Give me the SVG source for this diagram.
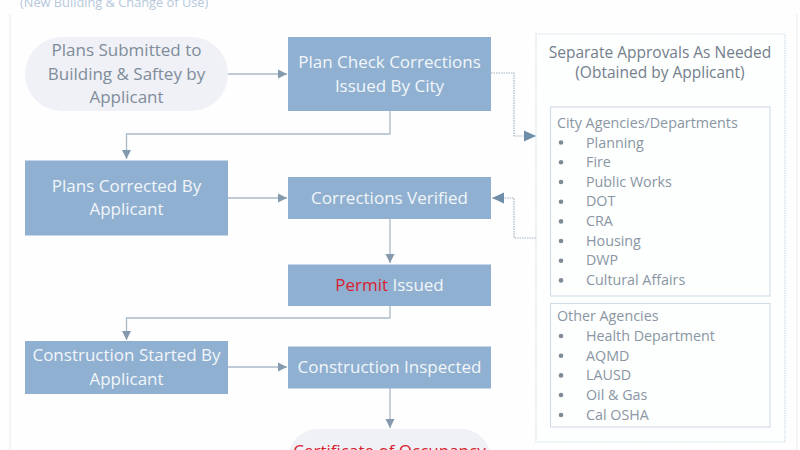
<svg xmlns="http://www.w3.org/2000/svg" width="800" height="450" viewBox="0 0 800 450">
<style>
text{font-family:"Open Sans","Noto Sans","Liberation Sans",sans-serif}
.box{fill:#8fb0d0}
.pill{fill:#eff1f6}
.w{fill:#f2f6fa;font-size:17px;text-anchor:middle}
.g{fill:#7f8c9a;font-size:17px;text-anchor:middle}
.r{fill:#d9202f}
.c{fill:none;stroke:#a9b9c8;stroke-width:1.3}
.d{fill:none;stroke:#a2b2c2;stroke-width:1.2;stroke-dasharray:1.5 1}
.panel{fill:#fdfefe;stroke:#cfdbe6;stroke-width:1.1}
.dp{fill:#fdfefe;stroke:#d2dde8;stroke-width:1.2;stroke-dasharray:1.5 1}
.t{fill:#8a96a3;font-size:14.3px}
.h{fill:#737f8c;font-size:15.500px;text-anchor:middle}
.b{fill:#7f8a97}
</style>
<defs>
<marker id="a" markerUnits="userSpaceOnUse" markerWidth="10" markerHeight="10" refX="9" refY="5" orient="auto"><path d="M0 0.5L9 5L0 9.5Z" fill="#8499ad"/></marker>
<marker id="l" markerUnits="userSpaceOnUse" markerWidth="13" markerHeight="12" refX="12" refY="6" orient="auto"><path d="M0 0.5L12 6L0 11.5Z" fill="#6f8ea9"/></marker>
</defs>
<rect width="800" height="450" fill="#fefefe"/>
<path d="M10 14V450M797 14V450" fill="none" stroke="#e8ecf1" stroke-width="1"/>
<text x="20" y="7" font-size="12.800" fill="#b5c8dc">(New Building &amp; Change of Use)</text>
<g id="connectors">
<path class="c" marker-end="url(#a)" d="M228 74H287"/>
<path class="c" marker-end="url(#a)" d="M390 111V134H126.500V159"/>
<path class="c" marker-end="url(#a)" d="M228 198H287"/>
<path class="c" marker-end="url(#a)" d="M390 219V263"/>
<path class="c" marker-end="url(#a)" d="M390 306V318H126.500V340"/>
<path class="c" marker-end="url(#a)" d="M228 367H287"/>
<path class="c" marker-end="url(#a)" d="M390 388V428"/>
<path class="d" marker-end="url(#l)" d="M491 73H514V136H536"/>
<path class="d" marker-end="url(#l)" d="M536 238H514V198H492"/>
</g>
<g id="n1"><rect class="pill" x="25" y="37" width="203" height="74" rx="37"/><text class="g" x="126.500" y="56">Plans Submitted to</text><text class="g" x="126.500" y="79.500">Building &amp; Saftey by</text><text class="g" x="126.500" y="103">Applicant</text></g>
<g id="n2"><rect class="box" x="288" y="37" width="203" height="74"/><text class="w" x="389.500" y="68">Plan Check Corrections</text><text class="w" x="389.500" y="91.500">Issued By City</text></g>
<g id="n3"><rect class="box" x="25" y="160.500" width="203" height="75"/><text class="w" x="126.500" y="191.500">Plans Corrected By</text><text class="w" x="126.500" y="215">Applicant</text></g>
<g id="n4"><rect class="box" x="288" y="177" width="203" height="42"/><text class="w" x="389.500" y="203.500">Corrections Verified</text></g>
<g id="n5"><rect class="box" x="288" y="264.500" width="203" height="41.500"/><text class="w" x="389.500" y="291"><tspan class="r">Permit</tspan> Issued</text></g>
<g id="n6"><rect class="box" x="25" y="341" width="203" height="53"/><text class="w" x="126.500" y="361">Construction Started By</text><text class="w" x="126.500" y="384.500">Applicant</text></g>
<g id="n7"><rect class="box" x="288" y="346.500" width="203" height="42"/><text class="w" x="389.500" y="373">Construction Inspected</text></g>
<g id="n8"><rect class="pill" x="288" y="429" width="203" height="60" rx="30"/><text class="g" x="389.500" y="456.500" style="fill:#d9202f">Certificate of Occupancy</text></g>
<g id="approvals"><rect class="dp" x="536" y="34" width="249" height="408"/><text class="h" x="660" y="58">Separate Approvals As Needed</text><text class="h" x="660" y="78">(Obtained by Applicant)</text></g>
<g id="city"><rect class="panel" x="550.500" y="107" width="219.500" height="189"/>
<text class="t" x="557" y="128">City Agencies/Departments</text>
<g class="b"><circle cx="561" cy="142.500" r="2.300"/><circle cx="561" cy="162.300" r="2.300"/><circle cx="561" cy="182" r="2.300"/><circle cx="561" cy="201.700" r="2.300"/><circle cx="561" cy="221.400" r="2.300"/><circle cx="561" cy="241" r="2.300"/><circle cx="561" cy="260.700" r="2.300"/><circle cx="561" cy="280.400" r="2.300"/></g>
<text class="t" x="586" y="147.500">Planning</text><text class="t" x="586" y="167">Fire</text><text class="t" x="586" y="186.700">Public Works</text><text class="t" x="586" y="206.400">DOT</text><text class="t" x="586" y="226">CRA</text><text class="t" x="586" y="245.800">Housing</text><text class="t" x="586" y="265.400">DWP</text><text class="t" x="586" y="285">Cultural Affairs</text></g>
<g id="other"><rect class="panel" x="550.500" y="303.500" width="219.500" height="123.500"/>
<text class="t" x="557" y="321">Other Agencies</text>
<g class="b"><circle cx="561" cy="336" r="2.300"/><circle cx="561" cy="355.700" r="2.300"/><circle cx="561" cy="375.400" r="2.300"/><circle cx="561" cy="395" r="2.300"/><circle cx="561" cy="415" r="2.300"/></g>
<text class="t" x="586" y="341">Health Department</text><text class="t" x="586" y="360.700">AQMD</text><text class="t" x="586" y="380.300">LAUSD</text><text class="t" x="586" y="400">Oil &amp; Gas</text><text class="t" x="586" y="420">Cal OSHA</text></g>
</svg>
